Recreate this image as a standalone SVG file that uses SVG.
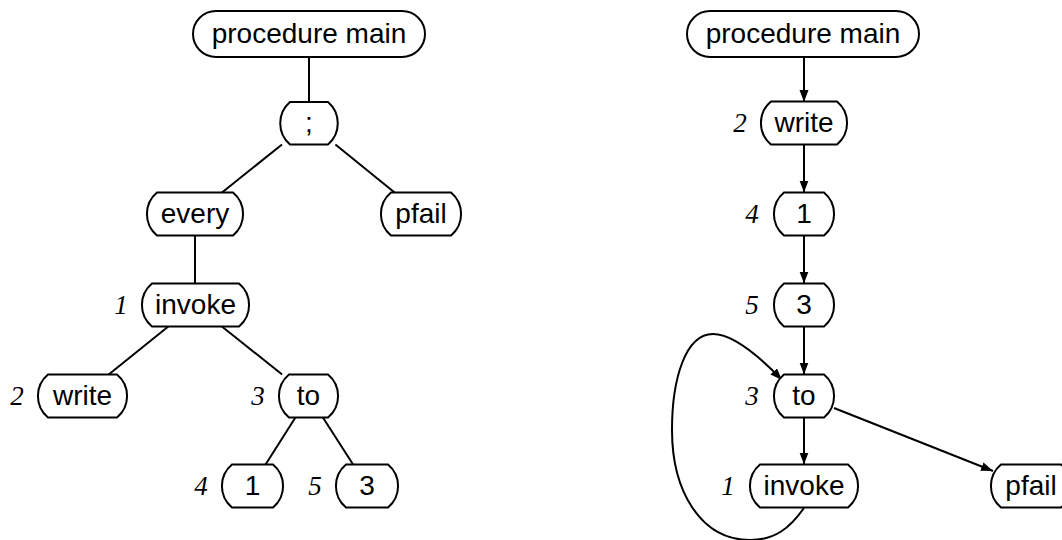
<svg xmlns="http://www.w3.org/2000/svg" width="1062" height="540" viewBox="0 0 1062 540">
<defs>
<marker id="arr" markerUnits="userSpaceOnUse" markerWidth="14" markerHeight="12" refX="12" refY="4.5" orient="auto">
<path d="M0,0 L12,4.5 L0,9 z" fill="#000"/>
</marker>
</defs>
<style>
.n{fill:#fff;stroke:#000;stroke-width:2}
.t{font-family:"Liberation Sans",Arial,sans-serif;font-size:28px;text-anchor:middle;fill:#000}
.l{font-family:"Liberation Serif","Times New Roman",serif;font-style:italic;font-size:27px;text-anchor:middle;fill:#000}
.e{stroke:#000;stroke-width:2;fill:none}
.a{stroke:#000;stroke-width:2;fill:none;marker-end:url(#arr)}
</style>
<g id="edges">
<line class="e" x1="309" y1="57" x2="309" y2="102"/>
<line class="e" x1="282" y1="144.5" x2="222" y2="192.5"/>
<line class="e" x1="335.4" y1="144.5" x2="394.6" y2="192.5"/>
<line class="e" x1="195" y1="235.5" x2="195" y2="283.5"/>
<line class="e" x1="168.3" y1="326.5" x2="108.7" y2="374.5"/>
<line class="e" x1="221.9" y1="326.5" x2="282.1" y2="374.5"/>
<line class="e" x1="295.4" y1="417.5" x2="265.6" y2="464.5"/>
<line class="e" x1="322.9" y1="417.5" x2="353.1" y2="464.5"/>
<line class="a" x1="804" y1="57" x2="804" y2="102"/>
<line class="a" x1="804" y1="144.5" x2="804" y2="192.5"/>
<line class="a" x1="804" y1="235.5" x2="804" y2="283.5"/>
<line class="a" x1="804" y1="326.5" x2="804" y2="374.5"/>
<line class="a" x1="804" y1="417.5" x2="804" y2="464.5"/>
<line class="a" x1="834" y1="408" x2="993" y2="471"/>
<path class="a" d="M804,508 C790,528 775,540 750,540 C700,540 672,490 672,430 C672,380 685,334 713,334 C733,334 758,355 782,380"/>
</g>
<g id="L_main"><rect class="n" x="193" y="11" width="232" height="46" rx="23" ry="23"/><text class="t" x="309" y="43">procedure main</text></g>
<g id="L_seq"><path class="n" d="M290,102 H328 A28,28 0 0 1 328,144.5 H290 A28,28 0 0 1 290,102 Z"/><text class="t" x="309" y="132">;</text></g>
<g id="L_every"><path class="n" d="M157,192.5 H233 A28,28 0 0 1 233,235.5 H157 A28,28 0 0 1 157,192.5 Z"/><text class="t" x="195" y="223">every</text></g>
<g id="L_pfail"><path class="n" d="M391,192.5 H451 A28,28 0 0 1 451,235.5 H391 A28,28 0 0 1 391,192.5 Z"/><text class="t" x="421" y="223">pfail</text></g>
<g id="L_invoke"><path class="n" d="M152,283.5 H239 A28,28 0 0 1 239,326.5 H152 A28,28 0 0 1 152,283.5 Z"/><text class="t" x="195.5" y="314">invoke</text><text class="l" x="121" y="314">1</text></g>
<g id="L_write"><path class="n" d="M48,374.5 H117 A28,28 0 0 1 117,417.5 H48 A28,28 0 0 1 48,374.5 Z"/><text class="t" x="82.5" y="405">write</text><text class="l" x="17" y="405">2</text></g>
<g id="L_to"><path class="n" d="M289,374.5 H328 A28,28 0 0 1 328,417.5 H289 A28,28 0 0 1 289,374.5 Z"/><text class="t" x="308.5" y="405">to</text><text class="l" x="258" y="405">3</text></g>
<g id="L_one"><path class="n" d="M232,464.5 H273 A28,28 0 0 1 273,507.5 H232 A28,28 0 0 1 232,464.5 Z"/><text class="t" x="252.5" y="495">1</text><text class="l" x="201" y="495">4</text></g>
<g id="L_three"><path class="n" d="M346,464.5 H388 A28,28 0 0 1 388,507.5 H346 A28,28 0 0 1 346,464.5 Z"/><text class="t" x="367" y="495">3</text><text class="l" x="315" y="495">5</text></g>
<g id="R_main"><rect class="n" x="687" y="11" width="232" height="46" rx="23" ry="23"/><text class="t" x="803" y="43">procedure main</text></g>
<g id="R_write"><path class="n" d="M771,101.5 H837 A28,28 0 0 1 837,144.5 H771 A28,28 0 0 1 771,101.5 Z"/><text class="t" x="804" y="132">write</text><text class="l" x="740" y="132">2</text></g>
<g id="R_one"><path class="n" d="M784,192.5 H824 A28,28 0 0 1 824,235.5 H784 A28,28 0 0 1 784,192.5 Z"/><text class="t" x="804" y="223">1</text><text class="l" x="752" y="223">4</text></g>
<g id="R_three"><path class="n" d="M784,283.5 H824 A28,28 0 0 1 824,326.5 H784 A28,28 0 0 1 784,283.5 Z"/><text class="t" x="804" y="314">3</text><text class="l" x="752" y="314">5</text></g>
<g id="R_to"><path class="n" d="M784,374.5 H824 A28,28 0 0 1 824,417.5 H784 A28,28 0 0 1 784,374.5 Z"/><text class="t" x="804" y="405">to</text><text class="l" x="752" y="405">3</text></g>
<g id="R_invoke"><path class="n" d="M760,464.5 H848 A28,28 0 0 1 848,507.5 H760 A28,28 0 0 1 760,464.5 Z"/><text class="t" x="804" y="495">invoke</text><text class="l" x="728" y="495">1</text></g>
<g id="R_pfail"><path class="n" d="M1001,464.5 H1061 A28,28 0 0 1 1061,507.5 H1001 A28,28 0 0 1 1001,464.5 Z"/><text class="t" x="1031" y="495">pfail</text></g>
</svg>
